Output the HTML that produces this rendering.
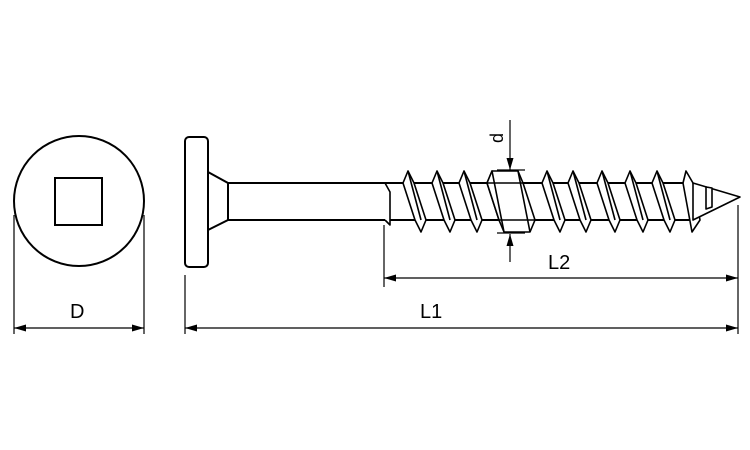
<!DOCTYPE html>
<html><head><style>body{margin:0;background:#fff}svg{display:block}text{font-family:"Liberation Sans",sans-serif;font-size:20px;fill:#000}</style></head><body>
<svg width="750" height="450" viewBox="0 0 750 450" xmlns="http://www.w3.org/2000/svg">
<g fill="none" stroke="#000" stroke-width="2">
<circle cx="79" cy="201" r="65"/>
<rect x="55" y="178" width="47" height="47"/>
<rect x="185" y="137" width="23" height="130" rx="4"/>
<path d="M208,172L228,183L228,220L208,230"/>
<path d="M228,183H690M228,220H690"/>
</g>
<g stroke="#000" stroke-width="1.6" fill="#fff" stroke-linejoin="round">
<path d="M385,183L390,192L390,225L385,220"/>
<g id="t"><path d="M403,183L408,171L414,183L426,220L421,232L415,220Z"/><path d="M408,171L421,220" fill="none"/></g>
<use href="#t" x="29"/><use href="#t" x="56"/><use href="#t" x="84"/><use href="#t" x="139"/><use href="#t" x="165"/><use href="#t" x="194"/><use href="#t" x="222"/><use href="#t" x="249"/>
<path d="M487,183L492,171L518,171L523,183L535,220L530,232L504,232L499,220Z"/><path d="M492,171L504,232M518,171L530,232M487,183H523M499,220H535" fill="none"/>
<path d="M683,183L686,171L693,183L700,220L692,232Z"/>
<path d="M693,183L740,197L693,220Z"/>
<path d="M706,187L712,188L712,207L706,209Z"/>
</g>
<g stroke="#000" stroke-width="1.2" fill="none">
<path d="M14,215V334M144,215V334M185,275V334M738,205V334M384,225V287"/>
<path d="M14,328H144M185,328H738M384,278H738"/>
<path d="M510,120V170M510,262V234M497,233H525M497,170H525"/>
</g>
<g fill="#000">
<path d="M14,328l12,-3.5v7zM144,328l-12,-3.5v7z"/>
<path d="M185,328l12,-3.5v7zM738,328l-12,-3.5v7z"/>
<path d="M384,278l12,-3.5v7zM738,278l-12,-3.5v7z"/>
<path d="M510,170l-3.5,-12h7zM510,234l-3.5,12h7z"/>
</g>
<text x="70" y="318">D</text>
<text x="420" y="318">L1</text>
<text x="548" y="269">L2</text>
<text transform="translate(503,138) rotate(-90)" text-anchor="middle" style="font-size:18px">d</text>
</svg>
</body></html>
